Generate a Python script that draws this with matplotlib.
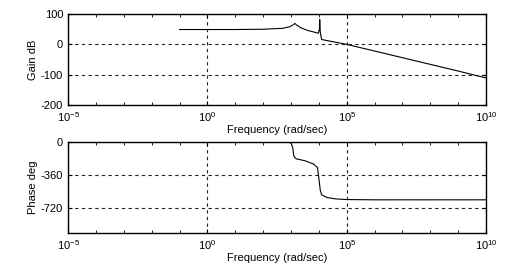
import numpy as np
import matplotlib.pyplot as plt
from matplotlib.ticker import LogLocator, NullFormatter

plt.rcParams['font.family'] = ['Liberation Sans', 'DejaVu Sans']
plt.rcParams['mathtext.default'] = 'regular'
plt.rcParams['axes.unicode_minus'] = False

# Frequency points (rad/sec)
gain_w = 10.0 ** np.array([-1, 0, 1, 2, 2.7, 2.95, 3.05, 3.14, 3.2, 3.35, 3.6, 3.85, 3.98,
                           4.02, 4.03, 4.05, 4.1, 5, 6, 7, 8, 9, 10])
gain_db = [49, 49, 49, 50, 53, 58, 63, 69, 64, 55, 46, 40, 37,
           50, 82, 40, 16, 0, -22, -44, -66, -88, -111]

phase_w = 10.0 ** np.array([-1, 2.8, 3.0, 3.06, 3.1, 3.15, 3.2, 3.5, 3.8, 3.95, 4.0,
                            4.05, 4.1, 4.3, 4.6, 5, 6, 10])
phase_deg = [0, 0, -8, -60, -150, -175, -185, -205, -240, -280, -400,
             -530, -580, -610, -625, -632, -635, -635]

fig = plt.figure(figsize=(5.13, 2.69), dpi=100)
ax1 = fig.add_axes([0.1326, 0.6097, 0.815, 0.338])
ax2 = fig.add_axes([0.1326, 0.1338, 0.815, 0.338])

ax1.semilogx(gain_w, gain_db, color='black', lw=0.8)
ax2.semilogx(phase_w, phase_deg, color='black', lw=0.8)

for ax in (ax1, ax2):
    ax.set_xlim(1e-5, 1e10)
    ax.set_xticks([1e-5, 1e0, 1e5, 1e10])
    ax.xaxis.set_minor_locator(LogLocator(base=10, subs=[1.0], numticks=30))
    ax.xaxis.set_minor_formatter(NullFormatter())
    ax.grid(True, which='major', color='#222222', linestyle=(0, (3, 3)), lw=0.8)
    ax.tick_params(direction='in', labelsize=8, length=3, top=True, right=True)
    ax.tick_params(which='minor', direction='in', length=2, top=True)
    for s in ax.spines.values():
        s.set_linewidth(1.0)
    ax.set_xlabel('Frequency (rad/sec)', fontsize=8, labelpad=1)

ax1.set_ylim(-200, 100)
ax1.set_yticks([-200, -100, 0, 100])
ax1.set_ylabel('Gain dB', fontsize=8, labelpad=2)

ax2.set_ylim(-1000, 0)
ax2.set_yticks([-720, -360, 0])
ax2.set_ylabel('Phase deg', fontsize=8, labelpad=2)

plt.savefig('out.png', dpi=100)
